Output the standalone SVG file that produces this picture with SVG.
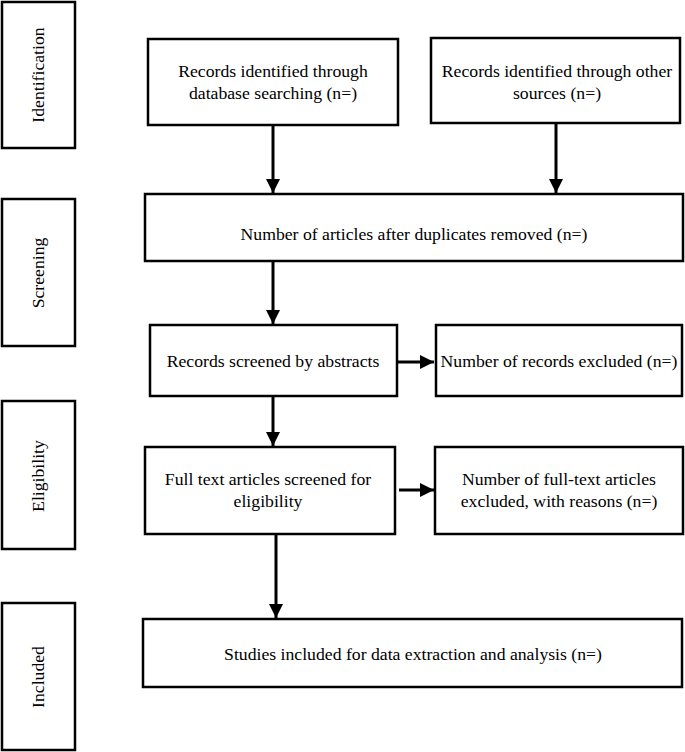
<svg xmlns="http://www.w3.org/2000/svg" width="685" height="752" viewBox="0 0 685 752">
<style>
.box{fill:#fff;stroke:#000;stroke-width:2.5}
.t{font-family:'Liberation Serif','DejaVu Serif',serif;font-size:17.7px;fill:#000;text-anchor:middle}
.c{stroke:#000;stroke-width:3;fill:none}
</style>
<defs>
<marker id="ah" markerUnits="userSpaceOnUse" markerWidth="16" markerHeight="14" viewBox="0 0 16 14" refX="14" refY="7" orient="auto">
<path d="M0,0 L14,7 L0,14 Z" fill="#000"/>
</marker>
</defs>
<rect width="685" height="752" fill="#fff"/>
<g id="stage-identification"><rect class="box" x="2" y="2" width="73" height="146"/><text class="t" transform="translate(44,75) rotate(-90)">Identification</text></g>
<g id="stage-screening"><rect class="box" x="2" y="199" width="73" height="147"/><text class="t" transform="translate(44,273) rotate(-90)">Screening</text></g>
<g id="stage-eligibility"><rect class="box" x="2" y="401" width="73" height="148"/><text class="t" transform="translate(44,476) rotate(-90)">Eligibility</text></g>
<g id="stage-included"><rect class="box" x="2" y="603" width="73" height="147"/><text class="t" transform="translate(44,677) rotate(-90)">Included</text></g>
<g id="n-db"><rect class="box" x="148" y="39" width="250" height="86"/><text class="t" x="273" y="77">Records identified through</text><text class="t" x="273" y="99">database searching (n=)</text></g>
<g id="n-other"><rect class="box" x="431" y="38" width="249" height="85"/><text class="t" x="557" y="77">Records identified through other</text><text class="t" x="557" y="99">sources (n=)</text></g>
<g id="n-dup"><rect class="box" x="145" y="194" width="538" height="67"/><text class="t" x="414" y="240">Number of articles after duplicates removed (n=)</text></g>
<g id="n-abs"><rect class="box" x="150" y="325" width="247" height="71"/><text class="t" x="273" y="367">Records screened by abstracts</text></g>
<g id="n-excl1"><rect class="box" x="436" y="325" width="246" height="71"/><text class="t" x="559" y="367">Number of records excluded (n=)</text></g>
<g id="n-full"><rect class="box" x="145" y="447" width="250" height="87"/><text class="t" x="268" y="485">Full text articles screened for</text><text class="t" x="268" y="507">eligibility</text></g>
<g id="n-excl2"><rect class="box" x="435" y="447" width="248" height="87"/><text class="t" x="559" y="485">Number of full-text articles</text><text class="t" x="559" y="507">excluded, with reasons (n=)</text></g>
<g id="n-incl"><rect class="box" x="143" y="619" width="539" height="68"/><text class="t" x="413" y="660">Studies included for data extraction and analysis (n=)</text></g>
<g id="connectors">
<line class="c" x1="273" y1="125" x2="273" y2="193" marker-end="url(#ah)"/>
<line class="c" x1="556" y1="123" x2="556" y2="193" marker-end="url(#ah)"/>
<line class="c" x1="273" y1="261" x2="273" y2="324" marker-end="url(#ah)"/>
<line class="c" x1="397" y1="362" x2="434" y2="362" marker-end="url(#ah)"/>
<line class="c" x1="273" y1="396" x2="273" y2="446" marker-end="url(#ah)"/>
<line class="c" x1="399" y1="490" x2="434" y2="490" marker-end="url(#ah)"/>
<line class="c" x1="276" y1="534" x2="276" y2="618" marker-end="url(#ah)"/>
</g>
</svg>
